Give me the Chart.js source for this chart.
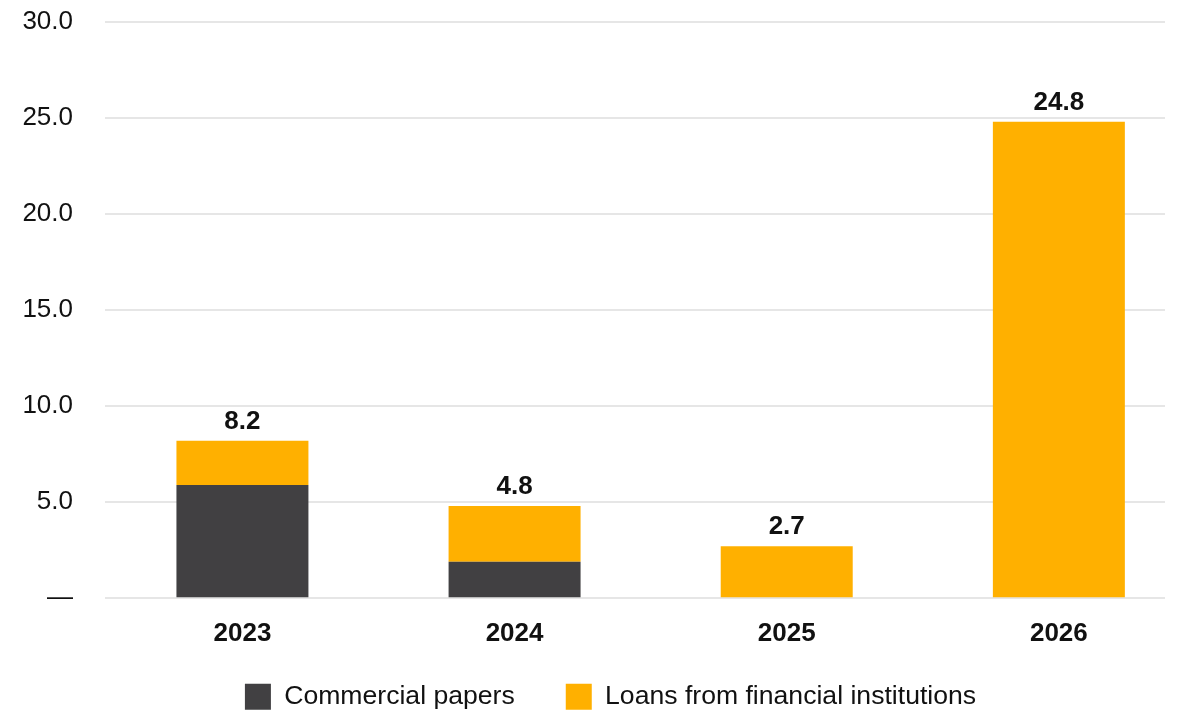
<!DOCTYPE html>
<html>
<head>
<meta charset="utf-8">
<script src="https://cdn.jsdelivr.net/npm/chart.js@4/dist/chart.umd.min.js"></script>
<style>
  html, body { margin: 0; padding: 0; background: #fff; }
  #wrap { width: 1182px; height: 711px; position: relative; }
</style>
</head>
<body>
<div id="wrap"><canvas id="chart"></canvas></div>
<script>
const years = ["2023", "2024", "2025", "2026"];
const commercialPapers = [5.9, 1.9, 0, 0];
const loansFinancial = [2.3, 2.9, 2.7, 24.8];
const totalLabels = ["8.2", "4.8", "2.7", "24.8"];
const yTicks = [0, 5, 10, 15, 20, 25, 30];

const FONT = "'Liberation Sans', Arial, sans-serif";

function points(values) {
    return values.map(function (v, i) { return { x: i, y: v }; });
}

const layoutTweaks = {
    id: "layoutTweaks",
    beforeLayout(chart) {
        // let the legend take less height so the plot reaches further down
        const lg = chart.legend;
        if (lg && !lg._wrapped) {
            const fit = lg.fit;
            lg.fit = function () { fit.call(this); this.height -= 38; };
            lg._wrapped = true;
        }
    },
    afterLayout(chart) {
        chart.legend.left += 28;
        chart.legend.right += 28;
        chart.legend.top -= 29;
    },
    afterDatasetsDraw(chart) {
        // total above each stacked bar
        const ctx = chart.ctx;
        const meta = chart.getDatasetMeta(1);
        ctx.save();
        ctx.font = "bold 26px " + FONT;
        ctx.fillStyle = "#111";
        ctx.textAlign = "center";
        ctx.textBaseline = "alphabetic";
        meta.data.forEach(function (bar, i) {
            ctx.fillText(totalLabels[i], bar.x, bar.y - 12);
        });
        ctx.restore();
    }
};

new Chart(document.getElementById("chart"), {
    type: "bar",
    data: {
        datasets: [
            {
                label: "Commercial papers",
                data: points(commercialPapers),
                backgroundColor: "#414042",
                stack: "total",
                barPercentage: 0.485,
                categoryPercentage: 1.0,
            },
            {
                label: "Loans from financial institutions",
                data: points(loansFinancial),
                backgroundColor: "#FFB000",
                stack: "total",
                barPercentage: 0.485,
                categoryPercentage: 1.0,
            },
        ],
    },
    options: {
        responsive: true,
        maintainAspectRatio: false,
        animation: false,
        layout: { padding: { top: 22, right: 17, left: 0, bottom: 0 } },
        plugins: {
            legend: {
                position: "bottom",
                labels: {
                    boxWidth: 26,
                    boxHeight: 26,
                    padding: 51,
                    color: "#111",
                    font: { family: FONT, size: 26.6 },
                },
            },
            tooltip: { enabled: false },
        },
        scales: {
            x: {
                type: "linear",
                stacked: true,
                offset: false,
                min: -0.505,
                max: 3.39,
                grid: { display: false },
                border: { display: false },
                afterBuildTicks(scale) {
                    scale.ticks = years.map(function (_, i) { return { value: i }; });
                },
                afterFit(scale) { scale.paddingLeft = 0; scale.paddingRight = 0; },
                ticks: {
                    color: "#111",
                    padding: 12,
                    font: { family: FONT, size: 26, weight: "bold" },
                    callback: function (v) { return years[v]; },
                },
            },
            y: {
                stacked: true,
                min: 0,
                max: 30,
                border: { display: false },
                grid: { color: "#e6e6e6", lineWidth: 2, drawTicks: false },
                afterBuildTicks(scale) {
                    scale.ticks = yTicks.map(function (v) { return { value: v }; });
                },
                afterFit(scale) {
                    scale.width = 105;
                    scale.paddingTop = 0;
                    scale.paddingBottom = 0;
                },
                ticks: {
                    padding: 32,
                    color: "#111",
                    font: { family: FONT, size: 26 },
                    callback: function (v) { return v === 0 ? "\u2014" : v.toFixed(1); },
                },
            },
        },
    },
    plugins: [layoutTweaks],
});
</script>
</body>
</html>
